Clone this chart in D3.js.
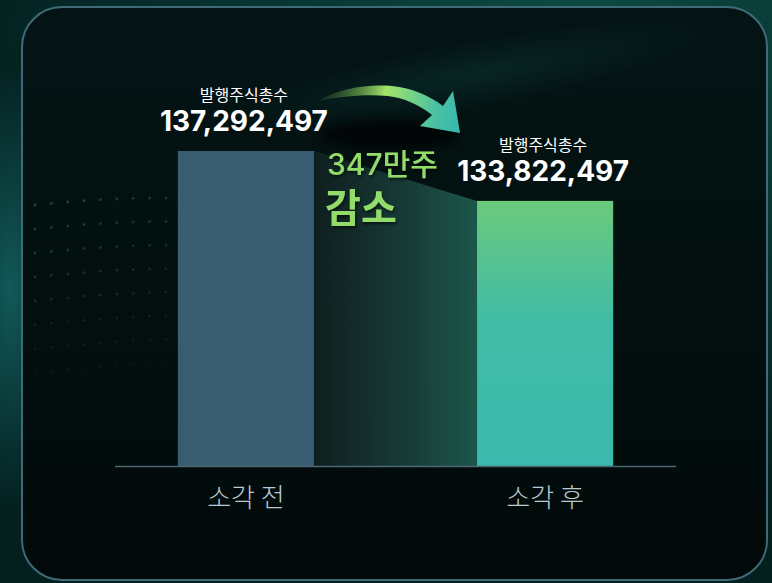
<!DOCTYPE html>
<html>
<head>
<meta charset="utf-8">
<script src="https://cdn.jsdelivr.net/npm/d3@7"></script>
<style>
  html, body { margin: 0; padding: 0; background: #031414; }
  #chart { width: 772px; height: 583px; }
</style>
</head>
<body>
<div id="chart"></div>
<script>
// data
var categories = ["소각 전", "소각 후"];
var shares = [137292497, 133822497];
var valueLabel = "발행주식총수";
var diffText = "347만주";
var diffWord = "감소";

var numFont = "Inter, 'Noto Sans CJK KR', sans-serif";
var korFont = "'Noto Sans CJK KR', sans-serif";

function drawChart() {
    var svgWidth = 772, svgHeight = 583;
    var svg = d3.select("#chart").append("svg")
        .attr("width", svgWidth)
        .attr("height", svgHeight);

    var defs = svg.append("defs");

    // backdrop glows
    var bg = defs.append("radialGradient").attr("id", "bgGlow")
        .attr("cx", "0.75").attr("cy", "0.05").attr("r", "0.8");
    bg.append("stop").attr("offset", "0").attr("stop-color", "#0d4a44");
    bg.append("stop").attr("offset", "1").attr("stop-color", "#03201f");

    var leftGlow = defs.append("radialGradient").attr("id", "leftGlow")
        .attr("cx", "0.5").attr("cy", "0.5").attr("r", "0.5");
    leftGlow.append("stop").attr("offset", "0").attr("stop-color", "#146060").attr("stop-opacity", 0.9);
    leftGlow.append("stop").attr("offset", "1").attr("stop-color", "#146060").attr("stop-opacity", 0);

    var panelG = defs.append("linearGradient").attr("id", "panelFill")
        .attr("x1", 0).attr("y1", 0).attr("x2", 0).attr("y2", 1);
    panelG.append("stop").attr("offset", "0").attr("stop-color", "#041414");
    panelG.append("stop").attr("offset", "0.5").attr("stop-color", "#030f0f");
    panelG.append("stop").attr("offset", "1").attr("stop-color", "#020909");

    var streak = defs.append("radialGradient").attr("id", "streak")
        .attr("cx", "0.5").attr("cy", "0.5").attr("r", "0.5");
    streak.append("stop").attr("offset", "0").attr("stop-color", "#0e3a3c").attr("stop-opacity", 0.45);
    streak.append("stop").attr("offset", "1").attr("stop-color", "#0e3a3c").attr("stop-opacity", 0);

    var rightBar = defs.append("linearGradient").attr("id", "rightBar")
        .attr("x1", 0).attr("y1", 0).attr("x2", 0).attr("y2", 1);
    rightBar.append("stop").attr("offset", "0").attr("stop-color", "#6bc97c");
    rightBar.append("stop").attr("offset", "0.45").attr("stop-color", "#41bca6");
    rightBar.append("stop").attr("offset", "1").attr("stop-color", "#3bb9ad");

    var bridge = defs.append("linearGradient").attr("id", "bridge")
        .attr("x1", 0).attr("y1", 0).attr("x2", 1).attr("y2", 0);
    bridge.append("stop").attr("offset", "0").attr("stop-color", "#0f1f1f");
    bridge.append("stop").attr("offset", "0.5").attr("stop-color", "#173a36");
    bridge.append("stop").attr("offset", "1").attr("stop-color", "#1d5a4d");

    var arrowG = defs.append("linearGradient").attr("id", "arrowFill")
        .attr("gradientUnits", "userSpaceOnUse")
        .attr("x1", 318).attr("y1", 90).attr("x2", 460).attr("y2", 125);
    arrowG.append("stop").attr("offset", "0").attr("stop-color", "#2f5a2a").attr("stop-opacity", 0.2);
    arrowG.append("stop").attr("offset", "0.45").attr("stop-color", "#a3e36a");
    arrowG.append("stop").attr("offset", "0.8").attr("stop-color", "#4cc3a0");
    arrowG.append("stop").attr("offset", "1").attr("stop-color", "#37b8b0");

    var blur = defs.append("filter").attr("id", "soft")
        .attr("x", "-50%").attr("y", "-50%").attr("width", "200%").attr("height", "200%");
    blur.append("feGaussianBlur").attr("stdDeviation", 6);

    var dotBlur = defs.append("filter").attr("id", "dotBlur");
    dotBlur.append("feGaussianBlur").attr("stdDeviation", 0.6);

    var txtShadow = defs.append("filter").attr("id", "txtShadow");
    txtShadow.append("feDropShadow").attr("dx", 1).attr("dy", 2)
        .attr("stdDeviation", 1.5).attr("flood-color", "#000").attr("flood-opacity", 0.6);

    svg.append("rect").attr("width", svgWidth).attr("height", svgHeight).attr("fill", "url(#bgGlow)");
    svg.append("ellipse").attr("cx", 10).attr("cy", 290).attr("rx", 60).attr("ry", 220)
        .attr("fill", "url(#leftGlow)");

    // panel
    svg.append("rect")
        .attr("x", 22).attr("y", 7).attr("width", 745).attr("height", 573)
        .attr("rx", 40).attr("ry", 40)
        .attr("fill", "url(#panelFill)")
        .attr("stroke", "#3f6a78").attr("stroke-width", 2);

    svg.append("ellipse").attr("cx", 470).attr("cy", 75).attr("rx", 260).attr("ry", 35)
        .attr("transform", "rotate(-10,470,75)")
        .attr("fill", "url(#streak)");

    // faint particle waves
    var dots = svg.append("g").attr("filter", "url(#dotBlur)");
    for (var r = 0; r < 8; r++) {
        for (var i = 0; i < 34; i++) {
            var t = i / 33;
            var px = 35 + t * 540;
            var py = 205 + r * 24 + t * t * (90 - r * 8) - Math.sin(t * 3.1) * 18;
            dots.append("circle").attr("cx", px).attr("cy", py)
                .attr("r", 1.4).attr("fill", "#3fa3a0")
                .attr("opacity", (1 - t * 0.7) * (1 - r / 9) * 0.35);
        }
    }

    var baseY = 466;
    var x = d3.scaleBand().domain(categories).range([115, 676])
        .paddingInner(0.545).paddingOuter(0.21);
    var y = d3.scaleLinear().domain([115400000, 140000000]).range([baseY, 112]);

    var x0 = x(categories[0]) + x.bandwidth();
    var x1 = x(categories[1]);

    // bridge between bars
    svg.append("path")
        .attr("d", "M" + x0 + "," + y(shares[0]) + "L" + x1 + "," + y(shares[1]) +
            "L" + x1 + "," + baseY + "L" + x0 + "," + baseY + "Z")
        .attr("fill", "url(#bridge)")
        .attr("opacity", 0.95);

    svg.selectAll(".bar")
        .data(shares)
        .enter().append("rect")
        .attr("class", "bar")
        .attr("x", function (d, i) { return x(categories[i]); })
        .attr("y", function (d) { return y(d); })
        .attr("width", x.bandwidth())
        .attr("height", function (d) { return baseY - y(d); })
        .attr("fill", function (d, i) { return i === 0 ? "#395d70" : "url(#rightBar)"; });

    // axis line + labels
    svg.append("line")
        .attr("x1", 115).attr("x2", 676).attr("y1", baseY + 0.5).attr("y2", baseY + 0.5)
        .attr("stroke", "#4b6872").attr("stroke-width", 1.5);

    svg.selectAll(".cat")
        .data(categories)
        .enter().append("text")
        .attr("class", "cat")
        .attr("x", function (d) { return x(d) + x.bandwidth() / 2; })
        .attr("y", 507)
        .attr("text-anchor", "middle")
        .style("font-family", korFont)
        .style("font-size", "26px")
        .style("font-weight", 300)
        .attr("fill", "#b9cad2")
        .text(function (d) { return d; });

    // value labels
    var fmt = d3.format(",");
    var lab = svg.selectAll(".val")
        .data(shares)
        .enter().append("g")
        .attr("class", "val")
        .attr("transform", function (d, i) {
            return "translate(" + (x(categories[i]) + x.bandwidth() / 2 - 2) + "," + y(d) + ")";
        });
    lab.append("text")
        .attr("y", -50)
        .attr("text-anchor", "middle")
        .style("font-family", korFont)
        .style("font-size", "16px")
        .attr("fill", "#ffffff")
        .text(valueLabel);
    lab.append("text")
        .attr("y", -20)
        .attr("text-anchor", "middle")
        .style("font-family", numFont)
        .style("font-size", "28px")
        .style("font-weight", 700)
        .attr("fill", "#ffffff")
        .text(function (d) { return fmt(d); });

    // arrow shadow + arrow
    svg.append("ellipse").attr("cx", 390).attr("cy", 135).attr("rx", 70).attr("ry", 14)
        .attr("fill", "#000").attr("opacity", 0.7).attr("filter", "url(#soft)");
    svg.append("path")
        .attr("d", "M318,101 C340,88 367,84 392,86 C412,88 430,96 443,106 L453,91 L460,133 " +
            "L420,126 L432,115 C418,104 404,98 388,96 C362,94 338,97 318,101 Z")
        .attr("fill", "url(#arrowFill)");

    // change annotation
    svg.append("text")
        .attr("x", 327).attr("y", 175)
        .style("font-family", numFont)
        .style("font-size", "30px")
        .style("font-weight", 500)
        .attr("fill", "#93dc6a")
        .attr("filter", "url(#txtShadow)")
        .text(diffText);
    svg.append("text")
        .attr("x", 325).attr("y", 222)
        .style("font-family", korFont)
        .style("font-size", "39px")
        .style("font-weight", 700)
        .attr("fill", "#93dc6a")
        .attr("filter", "url(#txtShadow)")
        .text(diffWord);
}

drawChart();
</script>
</body>
</html>
